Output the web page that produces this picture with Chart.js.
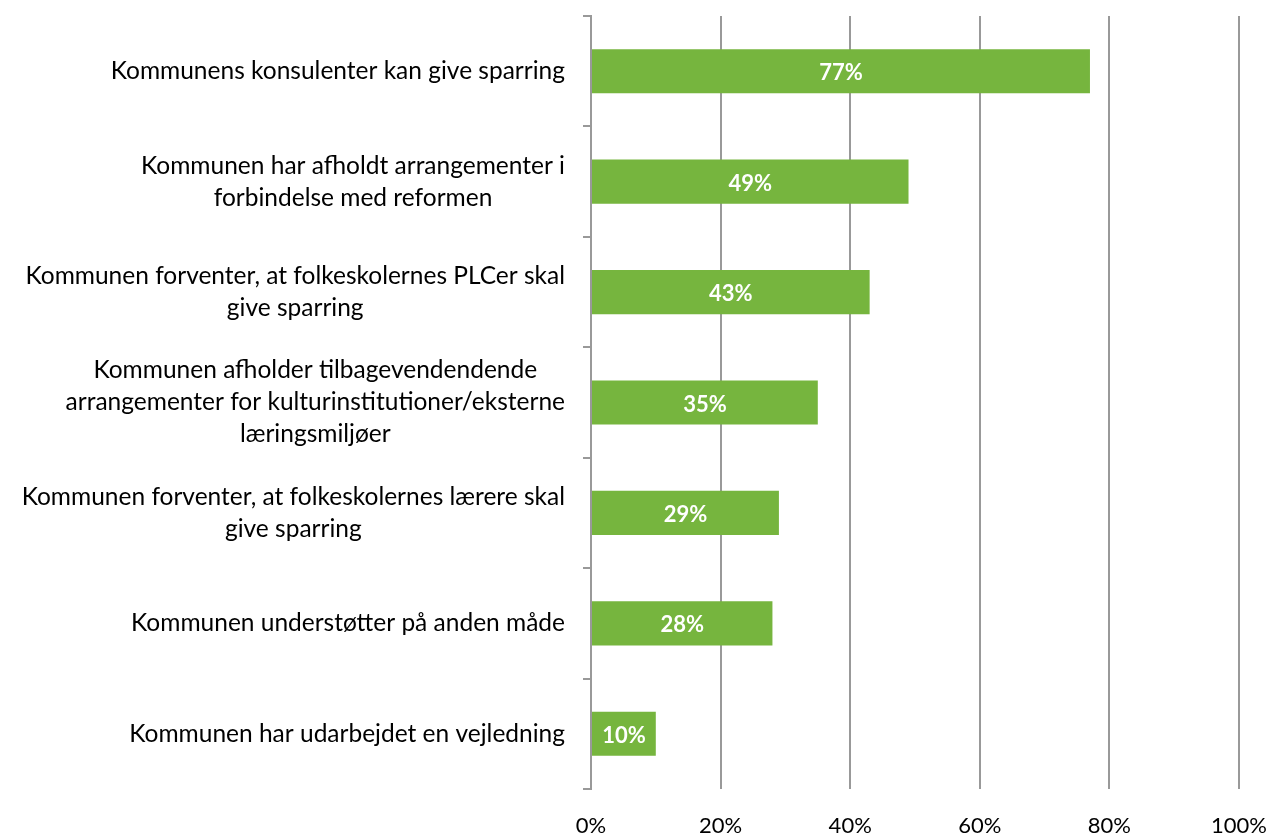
<!DOCTYPE html>
<html>
<head>
<meta charset="utf-8">
<script src="https://cdn.jsdelivr.net/npm/chart.js@4"></script>
<style>
  html, body { margin: 0; padding: 0; background: #fff; }
  #wrap { width: 1271px; height: 834px; position: relative; }
</style>
</head>
<body>
<div id="wrap"><canvas id="chart"></canvas></div>
<script>
// kategorier (flere linjer pr. label)
var categories = [
    ['Kommunens konsulenter kan give sparring'],
    ['Kommunen har afholdt arrangementer i', 'forbindelse med reformen'],
    ['Kommunen forventer, at folkeskolernes PLCer skal', 'give sparring'],
    ['Kommunen afholder tilbagevendendende', 'arrangementer for kulturinstitutioner/eksterne', 'læringsmiljøer'],
    ['Kommunen forventer, at folkeskolernes lærere skal', 'give sparring'],
    ['Kommunen understøtter på anden måde'],
    ['Kommunen har udarbejdet en vejledning']
];
var values = [77, 49, 43, 35, 29, 28, 10];
var xTicks = [0, 20, 40, 60, 80, 100];

var FONT = 'Lato, "Open Sans", sans-serif';

// labels på y-aksen: højrejusteret blok, centrerede linjer
var yLabels = {
    id: 'yLabels',
    afterDraw: function(chart) {
        var ctx = chart.ctx;
        var y = chart.scales.y;
        var right = y.right - 26;
        var lh = 32;
        ctx.save();
        ctx.font = '24.5px ' + FONT;
        ctx.fillStyle = '#000';
        ctx.textAlign = 'center';
        ctx.textBaseline = 'middle';
        categories.forEach(function(lines, i) {
            var w = 0;
            lines.forEach(function(l) { w = Math.max(w, ctx.measureText(l).width); });
            var cx = right - w / 2;
            var cy = y.getPixelForTick(i);
            var top = cy - (lines.length - 1) * lh / 2;
            lines.forEach(function(l, k) {
                ctx.fillText(l, cx, top + k * lh);
            });
        });
        ctx.restore();
    }
};

// værdier inde i søjlerne
var barValues = {
    id: 'barValues',
    afterDatasetsDraw: function(chart) {
        var ctx = chart.ctx;
        var meta = chart.getDatasetMeta(0);
        ctx.save();
        ctx.font = 'bold 22px ' + FONT;
        ctx.fillStyle = '#fff';
        ctx.textAlign = 'center';
        ctx.textBaseline = 'middle';
        meta.data.forEach(function(bar, i) {
            ctx.fillText(values[i] + '%', (bar.x + bar.base) / 2, bar.y + 2);
        });
        ctx.restore();
    }
};

var ctx = document.getElementById('chart').getContext('2d');
var myChart = new Chart(ctx, {
    type: 'bar',
    data: {
        labels: categories.map(function(c) { return c.join(' '); }),
        datasets: [{
            data: values,
            backgroundColor: '#76B53E',
            borderWidth: 0,
            barPercentage: 0.4,
            categoryPercentage: 1.0
        }]
    },
    options: {
        indexAxis: 'y',
        responsive: true,
        maintainAspectRatio: false,
        animation: false,
        layout: { padding: { top: 16, right: 32, left: 0, bottom: 0 } },
        plugins: {
            legend: { display: false },
            tooltip: { enabled: false }
        },
        scales: {
            x: {
                min: 0,
                max: 100,
                afterBuildTicks: function(scale) {
                    scale.ticks = xTicks.map(function(v) { return { value: v }; });
                },
                afterFit: function(scale) {
                    scale.height = 45;
                    scale.paddingLeft = 0;
                    scale.paddingRight = 0;
                },
                border: { display: false },
                grid: {
                    color: '#999',
                    lineWidth: 2,
                    drawTicks: false
                },
                ticks: {
                    padding: 24,
                    color: '#000',
                    font: { family: FONT, size: 22 },
                    maxRotation: 0,
                    callback: function(v) { return v + '%'; }
                }
            },
            y: {
                afterFit: function(scale) { scale.width = 591; },
                border: { display: true, color: '#999', width: 2 },
                grid: {
                    offset: true,
                    drawOnChartArea: false,
                    color: '#999',
                    lineWidth: 2,
                    tickLength: 8
                },
                ticks: { display: false }
            }
        }
    },
    plugins: [yLabels, barValues]
});
</script>
</body>
</html>
